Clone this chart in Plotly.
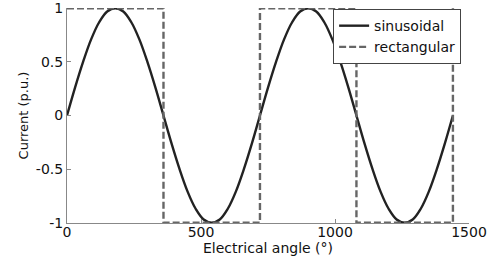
import plotly.graph_objects as go

angle_sin = [0, 30, 60, 90, 120, 150, 180, 210, 240, 270, 300, 330, 360,
             390, 420, 450, 480, 510, 540, 570, 600, 630, 660, 690, 720,
             750, 780, 810, 840, 870, 900, 930, 960, 990, 1020, 1050, 1080,
             1110, 1140, 1170, 1200, 1230, 1260, 1290, 1320, 1350, 1380, 1410, 1440]
current_sin = [0, 0.26, 0.5, 0.71, 0.87, 0.97, 1, 0.97, 0.87, 0.71, 0.5, 0.26, 0,
               -0.26, -0.5, -0.71, -0.87, -0.97, -1, -0.97, -0.87, -0.71, -0.5, -0.26, 0,
               0.26, 0.5, 0.71, 0.87, 0.97, 1, 0.97, 0.87, 0.71, 0.5, 0.26, 0,
               -0.26, -0.5, -0.71, -0.87, -0.97, -1, -0.97, -0.87, -0.71, -0.5, -0.26, 0]

angle_rect = [0, 360, 360, 720, 720, 1080, 1080, 1440, 1440]
current_rect = [1, 1, -1, -1, 1, 1, -1, -1, 1]

x_ticks = [0, 500, 1000, 1500]
y_ticks = [-1, -0.5, 0, 0.5, 1]
y_tick_text = ["-1", "-0.5", "0", "0.5", "1"]

FONT = "DejaVu Sans, Liberation Sans, Arial, sans-serif"

fig = go.Figure()
fig.add_trace(go.Scatter(x=angle_sin, y=current_sin, mode="lines", name="sinusoidal",
                         line=dict(color="#222222", width=2.4, shape="spline")))
fig.add_trace(go.Scatter(x=angle_rect, y=current_rect, mode="lines", name="rectangular",
                         line=dict(color="#666666", width=2.4, dash="7px,3px")))

fig.update_layout(
    width=492, height=259,
    margin=dict(l=67, r=23, t=8, b=36),
    paper_bgcolor="white", plot_bgcolor="white",
    font=dict(family=FONT, size=13, color="#111111"),
    showlegend=True,
    legend=dict(x=0.662, y=0.995, xanchor="left", yanchor="top",
                bgcolor="white", bordercolor="#444444", borderwidth=1,
                font=dict(size=14, family=FONT), tracegroupgap=0, itemwidth=30),
    xaxis=dict(range=[0, 1500], tickvals=x_ticks, ticks="inside", ticklen=4,
               tickcolor="#888888", showline=True, linecolor="#888888", linewidth=1,
               showgrid=False, zeroline=False, tickfont=dict(size=14),
               ticklabeloverflow="allow", automargin=False, ticklabelstandoff=-4),
    yaxis=dict(range=[-1.003, 1.003], tickvals=y_ticks, ticktext=y_tick_text, ticks="inside",
               ticklen=4, tickcolor="#888888", showline=True, linecolor="#888888",
               linewidth=1, showgrid=False, zeroline=False, tickfont=dict(size=14),
               ticklabeloverflow="allow", automargin=False,
               title=dict(text="Current (p.u.)", standoff=4, font=dict(size=13))),
    annotations=[dict(text="Electrical angle (°)", xref="paper", yref="paper",
                      x=0.5, y=0, yanchor="middle", yshift=-25, showarrow=False,
                      font=dict(size=14, family=FONT))],
)
fig.write_html("out.html", config={"displayModeBar": False},
               post_script="document.body.style.margin='0px';")
